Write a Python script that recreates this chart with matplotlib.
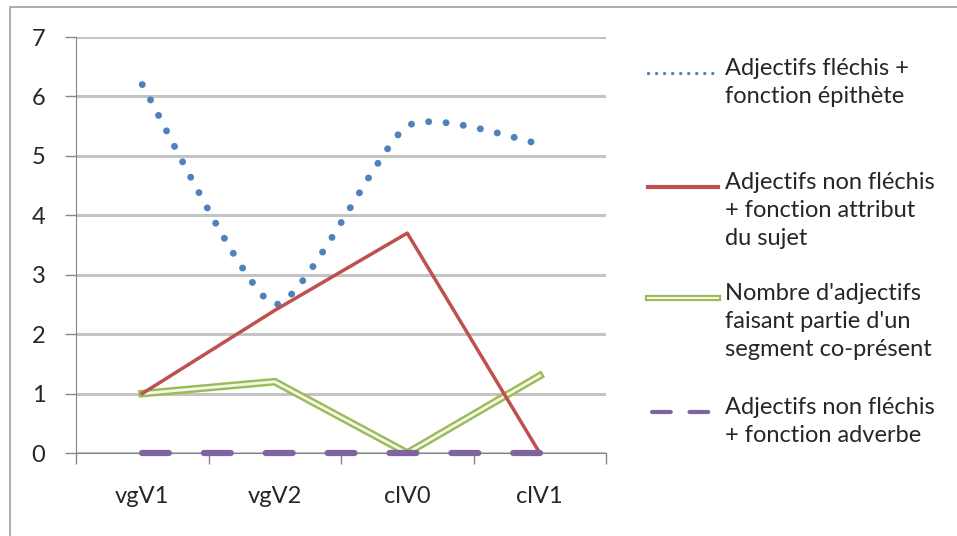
import numpy as np
import matplotlib.pyplot as plt
from matplotlib.path import Path
from matplotlib.patches import PathPatch, Rectangle
from matplotlib.lines import Line2D

plt.rcParams['font.family'] = ['Lato', 'DejaVu Sans']

# Données
categories = ['vgV1', 'vgV2', 'clV0', 'clV1']
epithete = [6.2, 2.5, 5.5, 5.2]
attribut = [1.0, 2.4, 3.7, 0.0]
co_present = [1.0, 1.2, 0.0, 1.3]
adverbe = [0.0, 0.0, 0.0, 0.0]
labels = ["Adjectifs fléchis +\nfonction épithète",
          "Adjectifs non fléchis\n+ fonction attribut\ndu sujet",
          "Nombre d'adjectifs\nfaisant partie d'un\nsegment co-présent",
          "Adjectifs non fléchis\n+ fonction adverbe"]

blue = '#4F81BD'
red = '#C0504D'
green = '#9BBB59'
purple = '#8064A2'
grid = '#C4C4C4'
fs = 17

fig = plt.figure(figsize=(9.57, 5.36), dpi=100)
fig.patches.append(Rectangle((10 / 957, -0.1), 1.1, 1 - 7 / 536 + 0.1,
                             transform=fig.transFigure, fill=False,
                             edgecolor='#A0A0A0', lw=1.2))

ax = fig.add_axes([76 / 957, 1 - 453 / 536, (606 - 76) / 957, (453 - 37) / 536])
x = np.arange(len(categories))


# courbe lissée (comme Excel) : Bézier de type Catmull-Rom
def smooth_path(xs, ys, t=0.1):
    xs = np.asarray(xs, float)
    ys = np.asarray(ys, float)
    verts = [(xs[0], ys[0])]
    codes = [Path.MOVETO]
    n = len(xs)
    for i in range(n - 1):
        p0 = np.array([xs[max(i - 1, 0)], ys[max(i - 1, 0)]])
        p1 = np.array([xs[i], ys[i]])
        p2 = np.array([xs[i + 1], ys[i + 1]])
        p3 = np.array([xs[min(i + 2, n - 1)], ys[min(i + 2, n - 1)]])
        c1 = p1 + (p2 - p0) * t
        c2 = p2 - (p3 - p1) * t
        verts += [tuple(c1), tuple(c2), tuple(p2)]
        codes += [Path.CURVE4] * 3
    return Path(verts, codes)


ax.add_patch(PathPatch(smooth_path(x, epithete), fill=False, edgecolor=blue,
                       lw=5, linestyle=(0, (0.01, 2.5)), capstyle='round',
                       zorder=3))
ax.plot(x, attribut, color=red, lw=2.5, zorder=4)
ax.plot(x, co_present, color=green, lw=5.5, solid_joinstyle='miter', zorder=3)
ax.plot(x, co_present, color='#F4F8E8', lw=2.0, solid_joinstyle='miter', zorder=3)
ax.plot(x, adverbe, color=purple, lw=4.5, linestyle=(0, (4.3, 5.6)),
        dash_capstyle='round', zorder=5, clip_on=False)

ax.set_xlim(-0.5, 3.5)
ax.set_ylim(0, 7)
ax.set_yticks(range(8))
ax.set_xticks(x)
ax.set_xticklabels(categories)
ax.set_xticks(np.arange(-0.5, 3.6, 1), minor=True)
ax.tick_params(axis='x', which='major', length=0, pad=24, labelsize=fs, colors='#262626')
ax.tick_params(axis='x', which='minor', length=8, width=1, color='#868686')
ax.tick_params(axis='y', length=8, width=1, color='#868686', pad=14,
               labelsize=fs, labelcolor='#262626')
ax.yaxis.grid(True, color=grid, lw=2.2)
ax.set_axisbelow(True)
for s in ['top', 'right']:
    ax.spines[s].set_visible(False)
ax.spines['left'].set_color('#868686')
ax.spines['bottom'].set_color('#868686')

# légende
lg = fig.add_axes([0, 0, 1, 1], facecolor='none')
lg.set_xlim(0, 957)
lg.set_ylim(536, 0)
lg.axis('off')
ys = [73, 187, 298, 412]
hx = [648, 718]
lg.add_line(Line2D(hx, [ys[0]] * 2, color=blue, lw=2.4, linestyle=(0, (0.01, 2.4)),
                   dash_capstyle='round'))
lg.add_line(Line2D(hx, [ys[1]] * 2, color=red, lw=3))
lg.add_line(Line2D(hx, [ys[2]] * 2, color=green, lw=4.5))
lg.add_line(Line2D(hx, [ys[2]] * 2, color='#F4F8E8', lw=1.5))
lg.add_line(Line2D([652, 714], [ys[3]] * 2, color=purple, lw=3,
                   linestyle=(0, (4.5, 4.5)), dash_capstyle='round'))
for yy, lab in zip(ys, labels):
    lg.text(725, yy - 15, lab, fontsize=fs, va='top', ha='left',
            color='#262626', linespacing=1.42)

fig.savefig('out.png', dpi=100)
